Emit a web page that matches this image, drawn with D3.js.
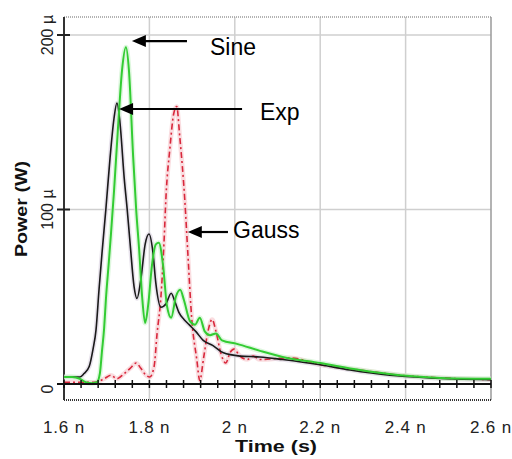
<!DOCTYPE html>
<html>
<head>
<meta charset="utf-8">
<script src="https://cdn.jsdelivr.net/npm/d3@7"></script>
<style>
  html, body { margin: 0; padding: 0; background: #fff; }
  svg { display: block; font-family: "Liberation Sans", Arial, sans-serif; }
</style>
</head>
<body>
<svg id="chart" width="512" height="459"></svg>
<script>
// ---- data (time in ns, power in µW) ----
const expT = [1.600,1.619,1.637,1.647,1.659,1.668,1.675,1.682,1.689,1.698,1.708,1.717,1.724,1.731,1.741,1.748,1.755,1.764,1.771,1.780,1.790,1.799,1.808,1.815,1.827,1.839,1.851,1.860,1.869,1.881,1.893,1.909,1.926,1.949,1.972,2.012,2.059,2.112,2.200,2.270,2.363,2.457,2.600];
const expV = [4,4,4,6,10,20,31,54,75,100,130,152,161,150,118,100,80,56,49,60,80,86,76,58,44,46,52,47,41,37,34,30,25,22,18,16,15.5,14,11,8,5,3.5,2.5];

const sineT = [1.600,1.619,1.637,1.651,1.666,1.677,1.684,1.689,1.694,1.698,1.705,1.710,1.717,1.726,1.736,1.745,1.752,1.762,1.769,1.776,1.783,1.790,1.797,1.806,1.815,1.822,1.832,1.841,1.851,1.862,1.872,1.881,1.895,1.907,1.918,1.930,1.942,1.956,1.970,2.005,2.059,2.112,2.200,2.293,2.387,2.481,2.600];
const sineV = [4,4,3,1,0.5,1,6,19,32,48,70,86,110,145,180,193,180,130,100,77,50,35,45,68,80,81,68,45,38,50,54,48,36,34,38,30,28,29,25,23,19,15.5,12,8,5,3.5,3];

const gaussT = [1.600,1.637,1.673,1.694,1.710,1.724,1.741,1.755,1.769,1.780,1.792,1.801,1.811,1.818,1.827,1.834,1.839,1.848,1.857,1.864,1.871,1.883,1.890,1.899,1.911,1.918,1.927,1.937,1.947,1.956,1.968,1.979,1.989,1.998,2.012,2.029,2.043,2.059,2.129,2.200,2.293,2.387,2.481,2.600];
const gaussV = [1,1,1,3,5,3,6,9,12,9,5,4,10,29,50,80,108,135,155,159,142,105,75,38,14,2,15,30,37,30,17,12,18,20,16,14,16,14,15,11,8,5,3.5,2.5];

const xTickVals = [1.6,1.8,2.0,2.2,2.4,2.6];
const xTickLabels = ["1.6 n","1.8 n","2 n","2.2 n","2.4 n","2.6 n"];
const yTickVals = [0,100,200];
const yTickLabels = ["0","100 µ","200 µ"];

const annotations = [
  {label:"Sine",  tipT:1.759, tailT:1.888, arrowV:196.5, textT:1.942, textV:188.5},
  {label:"Exp",   tipT:1.729, tailT:2.017, arrowV:157.6, textT:2.059, textV:151.3},
  {label:"Gauss", tipT:1.890, tailT:1.984, arrowV:87.1,  textT:1.996, textV:83.7}
];

// ---- layout ----
const svg = d3.select("#chart");
const L = 64, R = 491, T = 17, B = 400;
const x = d3.scaleLinear().domain([1.6, 2.6]).range([L, R]);
const y = d3.scaleLinear().domain([0, 200]).range([384, 35]);

// grid
const g = svg.append("g");
g.selectAll(".vg").data(xTickVals.slice(1, -1)).enter().append("line")
  .attr("x1", d => x(d)).attr("x2", d => x(d)).attr("y1", T).attr("y2", B)
  .attr("stroke", "#cfcfcf").attr("stroke-width", 1.5);
g.selectAll(".hg").data([100, 200]).enter().append("line")
  .attr("x1", L).attr("x2", R).attr("y1", d => y(d)).attr("y2", d => y(d))
  .attr("stroke", "#cfcfcf").attr("stroke-width", 1.5);

// frame
g.append("line").attr("x1", L).attr("x2", R).attr("y1", T).attr("y2", T)
  .attr("stroke", "#9a9a9a").attr("stroke-width", 1.5).attr("stroke-dasharray", "1,1");
g.append("line").attr("x1", R).attr("x2", R).attr("y1", T).attr("y2", B)
  .attr("stroke", "#9a9a9a").attr("stroke-width", 1.5);
g.append("line").attr("x1", L).attr("x2", R).attr("y1", B).attr("y2", B)
  .attr("stroke", "#333").attr("stroke-width", 2).attr("stroke-dasharray", "1,1");
g.append("line").attr("x1", L).attr("x2", L).attr("y1", T).attr("y2", B)
  .attr("stroke", "#333").attr("stroke-width", 2);

// lines
const line = d3.line().x(d => x(d[0])).y(d => y(d[1])).curve(d3.curveMonotoneX);
const series = [
  {t: gaussT, v: gaussV, color: "#d8283c", halo: "#f6c6cc", width: 1.6, dash: "6,3,2,3"},
  {t: expT,   v: expV,   color: "#1a1a1a", halo: "#d8d0e0", width: 1.6, dash: null},
  {t: sineT,  v: sineV,  color: "#33cc33", halo: "#c8f2c8", width: 2,   dash: null}
];
series.forEach(s => {
  const pts = s.t.map((t, i) => [t, s.v[i]]);
  svg.append("path").datum(pts).attr("d", line).attr("fill", "none")
    .attr("stroke", s.halo).attr("stroke-width", s.width + 3).attr("stroke-opacity", 0.6);
});
series.forEach(s => {
  const pts = s.t.map((t, i) => [t, s.v[i]]);
  svg.append("path").datum(pts).attr("d", line).attr("fill", "none")
    .attr("stroke", s.color).attr("stroke-width", s.width)
    .attr("stroke-dasharray", s.dash);
});

// zero axis with crossing minor ticks
const y0 = y(0);
svg.append("line").attr("x1", L - 7).attr("x2", R).attr("y1", y0).attr("y2", y0)
  .attr("stroke", "#111").attr("stroke-width", 2);
const minor = d3.range(0, 26).map(i => 1.6 + i * 0.04);
svg.selectAll(".mt").data(minor).enter().append("line")
  .attr("x1", d => x(d)).attr("x2", d => x(d)).attr("y1", y0 - 4).attr("y2", y0 + 4)
  .attr("stroke", "#111").attr("stroke-width", 1.5);

// y ticks
svg.selectAll(".yt").data(yTickVals.slice(1)).enter().append("line")
  .attr("x1", L - 7).attr("x2", L + 6).attr("y1", d => y(d)).attr("y2", d => y(d))
  .attr("stroke", "#222").attr("stroke-width", 2);
svg.selectAll(".ytl").data(yTickVals).enter().append("text")
  .attr("transform", (d, i) => `translate(53,${y(d) + (d === 0 ? 5 : 0)}) rotate(-90)`)
  .attr("text-anchor", "middle").attr("font-size", 16).attr("fill", "#222")
  .text((d, i) => yTickLabels[i]);

// x tick labels
svg.selectAll(".xtl").data(xTickVals).enter().append("text")
  .attr("x", d => x(d)).attr("y", 433).attr("text-anchor", "middle")
  .attr("font-size", 17).attr("letter-spacing", "0.8px").attr("fill", "#222")
  .text((d, i) => xTickLabels[i]);

// axis titles
svg.append("text").attr("x", 276).attr("y", 452).attr("text-anchor", "middle")
  .attr("font-size", 17).attr("font-weight", "bold").attr("fill", "#111")
  .attr("textLength", 82).attr("lengthAdjust", "spacingAndGlyphs").text("Time (s)");
svg.append("text").attr("transform", "translate(27,209) rotate(-90)")
  .attr("text-anchor", "middle").attr("font-size", 16).attr("font-weight", "bold").attr("fill", "#111")
  .attr("textLength", 96).attr("lengthAdjust", "spacingAndGlyphs").text("Power (W)");

// annotations
annotations.forEach(a => {
  const tx = x(a.tipT), ty = y(a.arrowV), ex = x(a.tailT);
  svg.append("line").attr("x1", tx + 10).attr("x2", ex).attr("y1", ty).attr("y2", ty)
    .attr("stroke", "#000").attr("stroke-width", 2.2);
  svg.append("path").attr("d", `M${tx},${ty} L${tx + 14},${ty - 6} L${tx + 14},${ty + 6} Z`)
    .attr("fill", "#000");
  svg.append("text").attr("x", x(a.textT)).attr("y", y(a.textV))
    .attr("font-size", 23).attr("fill", "#000").text(a.label);
});
</script>
</body>
</html>
